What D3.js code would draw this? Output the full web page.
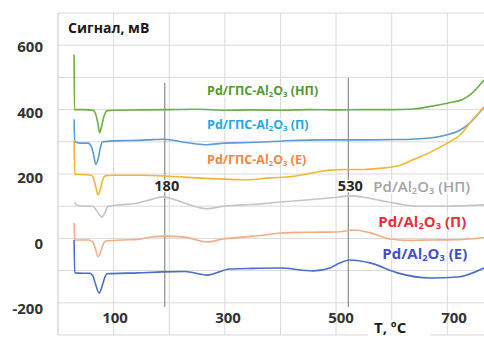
<!DOCTYPE html>
<html>
<head>
<meta charset="utf-8">
<script src="https://cdn.jsdelivr.net/npm/d3@7"></script>
<style>
  body { margin: 0; background: #fff; }
  svg { display: block; font-family: "Open Sans", sans-serif; }
</style>
</head>
<body>
<figure id="tpr" style="margin:0"></figure>
<script>
// temperature (°C) / signal (mV) pairs
const gpsNP = [[29,570],[29.5,400],[45,400],[63,398],[68,385],[72,355],[75,328],[78,345],[82,375],[88,396],[100,398],[150,399],[200,400],[250,401],[300,398],[350,399],[400,398],[450,400],[500,399],[550,400],[600,400],[640,402],[670,410],[700,420],[728,432],[745,452],[755,470],[766,492]];
const gpsP = [[29,370],[30,300],[40,296],[54,296],[60,285],[64,260],[68,230],[72,245],[76,280],[80,300],[100,303],[130,304],[160,306],[190,308],[230,298],[268,291],[300,296],[331,297],[380,300],[420,304],[480,306],[540,306],[610,307],[669,312],[700,322],[718,332],[735,350],[746,368],[766,408]];
const gpsE = [[29,305],[30,200],[45,198],[60,196],[64,185],[68,160],[72,135],[76,150],[80,180],[86,195],[100,196],[150,196],[200,193],[250,188],[300,184],[340,182],[380,188],[420,192],[460,204],[489,212],[520,214],[549,214],[580,218],[610,225],[638,244],[670,268],[700,296],[723,321],[746,370],[766,405]];
const alNP = [[30,112],[35,102],[50,100],[62,100],[68,90],[74,75],[79,66],[84,78],[90,100],[110,104],[144,110],[170,122],[189,129],[210,120],[240,102],[268,92],[297,100],[331,104],[370,108],[399,113],[451,120],[502,128],[525,132],[550,128],[579,118],[610,108],[650,100],[700,100],[766,104]];
const alP = [[29,48],[30,-5],[45,-5],[54,-5],[62,-10],[67,-30],[72,-57],[77,-40],[82,-15],[86,-8],[115,-5],[144,-3],[170,5],[192,7],[228,4],[268,-11],[297,-2],[331,4],[370,10],[399,17],[450,19],[502,20],[531,26],[560,18],[597,-2],[630,-6],[669,-5],[720,-4],[766,3]];
const alE = [[29,-5],[30,-107],[45,-108],[57,-108],[63,-118],[68,-145],[74,-170],[79,-150],[84,-122],[88,-110],[144,-107],[189,-104],[228,-103],[268,-114],[309,-95],[350,-93],[399,-92],[459,-101],[489,-92],[502,-80],[525,-67],[561,-76],[610,-107],[669,-123],[718,-120],[766,-92]];

const seriesData = [gpsNP, gpsP, gpsE, alNP, alP, alE];
const lineColors = ["#70ad47", "#5b9bd5", "#f2b632", "#c4c4c4", "#f0ad86", "#4a6fc4"];

// labels: prefix + Al2O3 + suffix
const labelPrefix = ["Pd/ГПС-", "Pd/ГПС-", "Pd/ГПС-", "Pd/", "Pd/", "Pd/"];
const labelSuffix = [" (НП)", " (П)", " (Е)", " (НП)", " (П)", " (Е)"];
const labelColors = ["#4f9a2c", "#22a6e6", "#f7843a", "#a3a3a3", "#ee2d36", "#4150c8"];
const labelSize = [12.5, 12.5, 12.5, 15, 15, 15];
const labelT = [268, 268, 268, 567, 576, 583];
const labelV = [458, 352, 246, 159, 52, -47];

const markerT = [192, 522];
const markerText = ["180", "530"];
const markerTop = [483, 498];
const markerBottom = -213;

const yTicks = [600, 400, 200, 0, -200];
const xTicks = [100, 300, 500, 700];

const width = 484, height = 340;
const x = d3.scaleLinear().domain([0, 766]).range([58, 484]);
const y = d3.scaleLinear().domain([-300, 700]).range([335, 13]);
// the tick labels sit a little off the grid in the picture
const xLab = d3.scaleLinear().domain([100, 700]).range([115, 454]);
const yLab = d3.scaleLinear().domain([600, -200]).range([47, 309]);

const svg = d3.select("figure#tpr")
  .append("svg")
  .attr("width", width)
  .attr("height", height);

// grid
svg.append("g")
  .selectAll("line")
  .data(d3.range(-300, 701, 100))
  .enter()
  .append("line")
  .attr("x1", x(0)).attr("x2", width)
  .attr("y1", d => y(d)).attr("y2", d => y(d))
  .attr("stroke", "#d9d9d9");

svg.append("g")
  .selectAll("line")
  .data(d3.range(0, 701, 100))
  .enter()
  .append("line")
  .attr("x1", d => x(d)).attr("x2", d => x(d))
  .attr("y1", y(700)).attr("y2", y(-300))
  .attr("stroke", d => d === 0 ? "#c8c8c8" : "#d9d9d9");

// tick labels
svg.append("g")
  .selectAll("text")
  .data(yTicks)
  .enter()
  .append("text")
  .attr("x", 43)
  .attr("y", d => yLab(d))
  .attr("dy", "0.35em")
  .attr("text-anchor", "end")
  .attr("font-size", 15)
  .attr("font-weight", "bold")
  .attr("fill", "#333")
  .text(d => d);

svg.append("g")
  .selectAll("text")
  .data(xTicks)
  .enter()
  .append("text")
  .attr("x", d => xLab(d))
  .attr("y", 318)
  .attr("dy", "0.35em")
  .attr("text-anchor", "middle")
  .attr("font-size", 15)
  .attr("font-weight", "bold")
  .attr("fill", "#333")
  .text(d => d);

// marker lines
svg.append("g")
  .selectAll("line")
  .data(markerT)
  .enter()
  .append("line")
  .attr("x1", d => x(d)).attr("x2", d => x(d))
  .attr("y1", (d, i) => y(markerTop[i])).attr("y2", y(markerBottom))
  .attr("stroke", "#8c8c8c")
  .attr("stroke-width", 1.2);

// curves
const line = d3.line()
  .x(d => x(d[0]))
  .y(d => y(d[1]))
  .curve(d3.curveMonotoneX);

svg.append("g")
  .selectAll("path")
  .data(seriesData)
  .enter()
  .append("path")
  .attr("d", d => line(d))
  .attr("fill", "none")
  .attr("stroke", (d, i) => lineColors[i])
  .attr("stroke-width", 1.6);

// marker labels
svg.append("g")
  .selectAll("text")
  .data(markerT)
  .enter()
  .append("text")
  .attr("x", d => x(d) + 2)
  .attr("y", 186)
  .attr("dy", "0.35em")
  .attr("text-anchor", "middle")
  .attr("font-size", 14.5)
  .attr("font-weight", "bold")
  .attr("fill", "#262626")
  .attr("stroke", "#fff")
  .attr("stroke-width", 3)
  .attr("paint-order", "stroke")
  .text((d, i) => markerText[i]);

// series labels
const lab = svg.append("g")
  .selectAll("text")
  .data(labelT)
  .enter()
  .append("text")
  .attr("x", d => x(d))
  .attr("y", (d, i) => y(labelV[i]))
  .attr("dy", "0.35em")
  .attr("font-size", (d, i) => labelSize[i])
  .attr("font-weight", (d, i) => i === 3 ? 600 : "bold")
  .attr("fill", (d, i) => labelColors[i])
  .attr("stroke", "#fff")
  .attr("stroke-width", 3)
  .attr("paint-order", "stroke");

lab.each(function (d, i) {
  const t = d3.select(this);
  const sub = labelSize[i] * 0.62;
  t.append("tspan").text(labelPrefix[i] + "Al");
  t.append("tspan").attr("font-size", sub).attr("dy", 2).text("2");
  t.append("tspan").attr("dy", -2).text("O");
  t.append("tspan").attr("font-size", sub).attr("dy", 2).text("3");
  t.append("tspan").attr("dy", -2).text(labelSuffix[i]);
});

// axis titles
svg.append("text")
  .attr("x", 68)
  .attr("y", 28)
  .attr("dy", "0.35em")
  .attr("font-size", 14)
  .attr("font-weight", "bold")
  .attr("fill", "#1a1a1a")
  .text("Сигнал, мВ");

svg.append("rect")
  .attr("x", 368).attr("y", 320)
  .attr("width", 62).attr("height", 20)
  .attr("fill", "#fff");

svg.append("text")
  .attr("x", 374)
  .attr("y", 328)
  .attr("dy", "0.35em")
  .attr("font-size", 15)
  .attr("font-weight", "bold")
  .attr("fill", "#1a1a1a")
  .text("T, ºC");
</script>
</body>
</html>
